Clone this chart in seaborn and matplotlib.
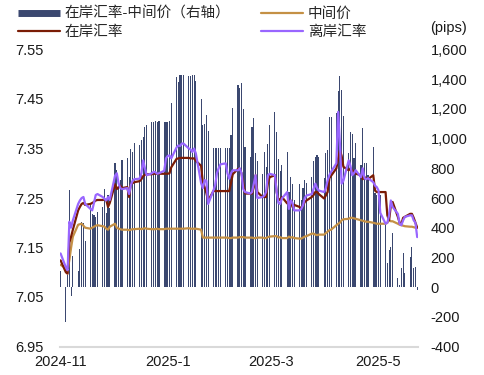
import pandas as pd
import matplotlib
matplotlib.use('Agg')
import matplotlib.pyplot as plt
import matplotlib.ticker as mticker
from matplotlib.lines import Line2D
import seaborn as sns

sns.set_theme(style='white')
plt.rcParams['font.family'] = ['Liberation Sans', 'Noto Sans CJK SC']
plt.rcParams['axes.unicode_minus'] = False

# trading days (weekdays), holidays carried forward as in the source
dates = pd.bdate_range('2024-11-01', '2025-05-23')

# onshore CNY (在岸汇率), one row per week
onshore = [
    7.124,
    7.100, 7.097, 7.160, 7.172, 7.186,
    7.225, 7.232, 7.238, 7.240, 7.236,
    7.238, 7.240, 7.242, 7.245, 7.246,
    7.246, 7.247, 7.246, 7.232, 7.240,
    7.278, 7.268, 7.272, 7.275, 7.270,
    7.272, 7.252, 7.278, 7.280, 7.282,
    7.284, 7.288, 7.294, 7.297, 7.298,
    7.298, 7.299, 7.299, 7.299, 7.299,
    7.299, 7.299, 7.299, 7.300, 7.312,
    7.329, 7.330, 7.331, 7.331, 7.331,
    7.331, 7.330, 7.330, 7.330, 7.325,
    7.315, 7.280, 7.272, 7.260, 7.245,
    7.264, 7.264, 7.264, 7.264, 7.264,
    7.264, 7.264, 7.264, 7.280, 7.298,
    7.309, 7.309, 7.300, 7.280, 7.259,
    7.259, 7.259, 7.272, 7.296, 7.262,
    7.252, 7.252, 7.252, 7.280, 7.292,
    7.296, 7.262, 7.245, 7.248, 7.252,
    7.239, 7.243, 7.245, 7.232, 7.236,
    7.232, 7.228, 7.235, 7.242, 7.245,
    7.252, 7.256, 7.262, 7.262, 7.258,
    7.249, 7.255, 7.262, 7.290, 7.295,
    7.310, 7.330, 7.346, 7.335, 7.313,
    7.306, 7.310, 7.306, 7.303, 7.299,
    7.296, 7.288, 7.292, 7.290, 7.288,
    7.296, 7.265, 7.262, 7.262, 7.262,
    7.262, 7.215, 7.205, 7.235, 7.242,
    7.212, 7.200, 7.198, 7.210, 7.212,
    7.218, 7.218, 7.210, 7.200, 7.190,
]

# central parity (中间价)
mid = [
    7.115,
    7.108, 7.104, 7.125, 7.150, 7.172,
    7.196, 7.197, 7.198, 7.194, 7.190,
    7.188, 7.190, 7.192, 7.194, 7.195,
    7.193, 7.192, 7.188, 7.186, 7.192,
    7.198, 7.190, 7.188, 7.187, 7.186,
    7.186, 7.185, 7.186, 7.187, 7.187,
    7.188, 7.187, 7.188, 7.189, 7.188,
    7.187, 7.187, 7.187, 7.188, 7.187,
    7.187, 7.188, 7.188, 7.188, 7.188,
    7.188, 7.188, 7.188, 7.188, 7.188,
    7.189, 7.188, 7.188, 7.188, 7.188,
    7.186, 7.170, 7.170, 7.170, 7.170,
    7.170, 7.170, 7.170, 7.170, 7.170,
    7.170, 7.170, 7.169, 7.169, 7.170,
    7.170, 7.171, 7.171, 7.171, 7.170,
    7.170, 7.170, 7.169, 7.169, 7.170,
    7.170, 7.169, 7.169, 7.171, 7.172,
    7.173, 7.173, 7.170, 7.171, 7.169,
    7.169, 7.172, 7.170, 7.171, 7.169,
    7.168, 7.168, 7.170, 7.172, 7.173,
    7.178, 7.178, 7.176, 7.175, 7.176,
    7.176, 7.179, 7.182, 7.185, 7.186,
    7.195, 7.198, 7.200, 7.205, 7.207,
    7.208, 7.210, 7.210, 7.209, 7.208,
    7.205, 7.204, 7.203, 7.202, 7.202,
    7.200, 7.199, 7.198, 7.198, 7.198,
    7.198, 7.200, 7.205, 7.203, 7.203,
    7.198, 7.196, 7.195, 7.194, 7.193,
    7.192, 7.192, 7.191, 7.190, 7.190,
]

# offshore CNH (离岸汇率)
offshore = [
    7.138,
    7.110, 7.104, 7.202, 7.190, 7.205,
    7.238, 7.245, 7.250, 7.252, 7.238,
    7.228, 7.225, 7.240, 7.256, 7.258,
    7.252, 7.248, 7.245, 7.252, 7.246,
    7.295, 7.300, 7.280, 7.270, 7.268,
    7.270, 7.258, 7.276, 7.285, 7.288,
    7.289, 7.300, 7.326, 7.310, 7.296,
    7.300, 7.303, 7.302, 7.299, 7.300,
    7.305, 7.330, 7.335, 7.336, 7.330,
    7.352, 7.356, 7.355, 7.360, 7.360,
    7.350, 7.348, 7.343, 7.350, 7.340,
    7.280, 7.270, 7.286, 7.285, 7.238,
    7.265, 7.276, 7.300, 7.310, 7.318,
    7.320, 7.300, 7.289, 7.300, 7.306,
    7.306, 7.310, 7.300, 7.268, 7.262,
    7.259, 7.262, 7.279, 7.296, 7.250,
    7.252, 7.255, 7.262, 7.296, 7.299,
    7.296, 7.262, 7.240, 7.238, 7.249,
    7.262, 7.228, 7.245, 7.240, 7.225,
    7.225, 7.228, 7.235, 7.250, 7.255,
    7.258, 7.268, 7.279, 7.270, 7.265,
    7.262, 7.270, 7.285, 7.296, 7.303,
    7.320, 7.424, 7.360, 7.279, 7.285,
    7.326, 7.315, 7.296, 7.300, 7.306,
    7.292, 7.310, 7.290, 7.288, 7.290,
    7.282, 7.275, 7.272, 7.265, 7.220,
    7.198, 7.200, 7.215, 7.245, 7.232,
    7.218, 7.198, 7.195, 7.205, 7.212,
    7.215, 7.215, 7.205, 7.200, 7.171,
]

# onshore minus central parity, pips (右轴)
spread = [
    108,
    -233, 81, 653, -61, 209,
    108, 254, 438, 433, 310,
    568, 490, 483, 474, 505,
    539, 658, 498, 622, 535,
    833, 788, 676, 721, 855,
    870, 740, 930, 910, 970,
    960, 990, 1010, 1080, 1090,
    1110, 1110, 1120, 1110, 1120,
    1110, 1110, 1110, 1120, 1240,
    1417, 1383, 1428, 1428, 1428,
    1420, 1420, 1428, 1428, 1388,
    1264, 1091, 1100, 1159, 1050,
    940, 940, 940, 940, 940,
    940, 940, 940, 1024, 1203,
    1360, 1338, 1372, 1197, 941,
    878, 1080, 1136, 905, 851,
    761, 907, 811, 963, 1091,
    1181, 1046, 862, 780, 820,
    912, 642, 743, 694, 586,
    694, 586, 665, 721, 700,
    739, 851, 878, 889, 878,
    732, 905, 923, 1147, 1147,
    1170, 1322, 1423, 1327, 1152,
    900, 1046, 1030, 867, 968,
    822, 1069, 833, 833, 754,
    945, 631, 620, 620, 620,
    429, 160, 250, 272, 362,
    59, 14, 126, 227, 92,
    204, 272, 126, 137, -20,
]

xtick_dates = ['2024-11-01', '2025-01-01', '2025-03-01', '2025-05-01']
xtick_labels = ['2024-11', '2025-1', '2025-3', '2025-5']

df = pd.DataFrame({'date': dates, 'onshore': onshore, 'mid': mid,
                   'offshore': offshore, 'spread': spread})

c_bar = '#3b4870'
c_on = '#7a1c05'
c_mid = '#c49045'
c_off = '#9966ff'
fs = 10.5

fig = plt.figure(figsize=(4.85, 3.75), dpi=100)
ax = fig.add_axes([0.124, 0.076, 0.738, 0.792])

# bars on the (pips) axis
ax.bar(df['date'], df['spread'], width=0.65, color=c_bar, linewidth=0)
ax.set_ylim(-400, 1600)
ax.set_yticks(range(-400, 1601, 200))
ax.yaxis.set_major_formatter(mticker.StrMethodFormatter('{x:,.0f}'))

# exchange rates on a twin axis
ax2 = ax.twinx()
sns.lineplot(data=df, x='date', y='mid', ax=ax2, color=c_mid, linewidth=1.6)
sns.lineplot(data=df, x='date', y='onshore', ax=ax2, color=c_on, linewidth=1.6)
sns.lineplot(data=df, x='date', y='offshore', ax=ax2, color=c_off, linewidth=1.6)
ax2.set_ylim(6.95, 7.55)
ax2.set_yticks([6.95, 7.05, 7.15, 7.25, 7.35, 7.45, 7.55])
ax2.yaxis.set_major_formatter(mticker.FormatStrFormatter('%.2f'))
ax2.set_xlabel('')
ax2.set_ylabel('')
ax.set_ylabel('')

# swap sides: rates on the left, pips on the right
ax2.yaxis.tick_left()
ax.yaxis.tick_right()

ax.set_xlim(pd.Timestamp('2024-10-31 18:00'), pd.Timestamp('2025-05-23 12:00'))
ax.set_xticks(pd.to_datetime(xtick_dates))
ax.set_xticklabels(xtick_labels)

for a in (ax, ax2):
    for s in ('top', 'left', 'right', 'bottom'):
        a.spines[s].set_visible(False)
ax.spines['bottom'].set_visible(True)
ax.spines['bottom'].set_color('#d9d9d9')
ax.spines['bottom'].set_linewidth(1.5)

ax.tick_params(axis='x', direction='in', length=3, width=1, color='#d9d9d9',
               labelsize=fs, labelcolor='#1a1a1a', pad=6)
ax.tick_params(axis='y', length=0, labelsize=fs, labelcolor='#1a1a1a', pad=9)
ax2.tick_params(axis='y', length=0, labelsize=fs, labelcolor='#1a1a1a', pad=12)

fig.text(0.887, 0.925, '(pips)', fontsize=fs, color='#1a1a1a', va='center', ha='left')

handles = [
    Line2D([], [], color=c_bar, linewidth=5, solid_capstyle='butt'),
    Line2D([], [], color=c_on, linewidth=1.6),
    Line2D([], [], color=c_mid, linewidth=1.6),
    Line2D([], [], color=c_off, linewidth=1.6),
]
labels = ['在岸汇率-中间价（右轴）', '在岸汇率', '中间价', '离岸汇率']
fig.legend(handles, labels, ncol=2, loc='upper left', bbox_to_anchor=(0.025, 0.997),
           frameon=False, fontsize=fs, handlelength=2.85, handletextpad=0.35,
           columnspacing=2.1, labelspacing=0.25, borderaxespad=0)

fig.savefig('out.png', dpi=100)
